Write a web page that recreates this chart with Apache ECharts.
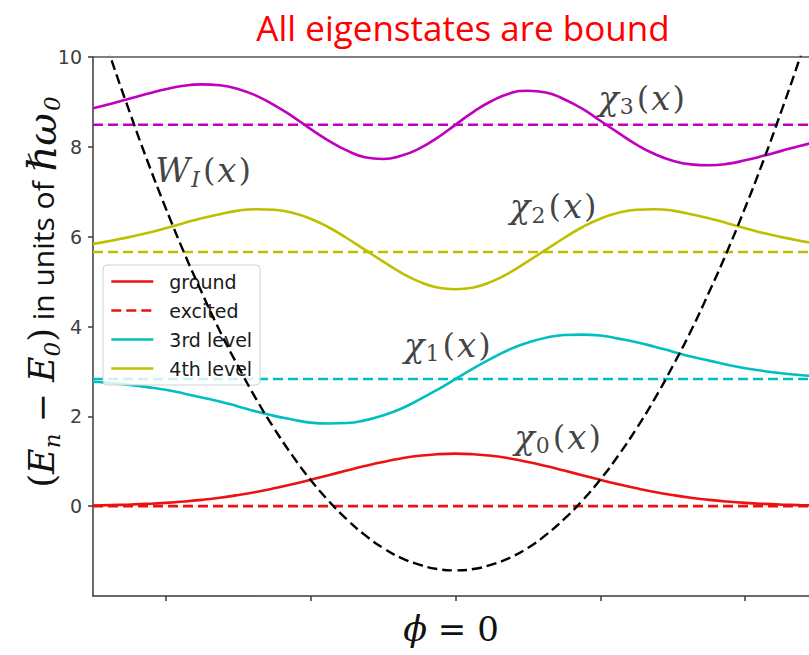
<!DOCTYPE html>
<html><head><meta charset="utf-8">
<script src="https://cdn.jsdelivr.net/npm/echarts@6/dist/echarts.min.js"></script>
<style>html,body{margin:0;padding:0;background:#fff}#c{width:809px;height:655px}</style>
</head><body><div id="c"></div>
<script>
// ---- data ----
const xGrid = [-5,-4.75,-4.5,-4.25,-4,-3.75,-3.5,-3.25,-3,-2.75,-2.5,-2.25,-2,-1.75,-1.5,-1.25,-1,-0.75,-0.5,-0.25,0,
  0.25,0.5,0.75,1,1.25,1.5,1.75,2,2.25,2.5,2.75,3,3.25,3.5,3.75,4,4.25,4.5,4.75,5];
const groundWave = [0.015,0.024,0.035,0.051,0.073,0.103,0.141,0.188,0.247,0.316,0.397,0.487,0.586,0.689,0.793,0.893,0.984,1.062,1.121,1.157,1.17,
  1.157,1.121,1.062,0.984,0.893,0.793,0.689,0.586,0.487,0.397,0.316,0.247,0.188,0.141,0.103,0.073,0.051,0.035,0.024,0.015];
const firstWave = [2.77,2.74,2.70,2.65,2.59,2.51,2.42,2.33,2.22,2.11,2.01,1.93,1.86,1.84,1.85,1.91,2.02,2.17,2.37,2.59,2.83,
  3.07,3.29,3.49,3.64,3.75,3.81,3.82,3.80,3.73,3.65,3.55,3.44,3.33,3.24,3.15,3.07,3.01,2.96,2.92,2.89];
const secondWave = [5.84,5.91,5.99,6.08,6.19,6.30,6.41,6.50,6.58,6.61,6.60,6.53,6.40,6.21,5.97,5.71,5.45,5.20,5.00,4.87,4.83,
  4.87,5.00,5.20,5.45,5.71,5.97,6.21,6.40,6.53,6.60,6.61,6.58,6.50,6.41,6.30,6.19,6.08,5.99,5.91,5.84];
const thirdWave = [8.86,8.96,9.07,9.18,9.28,9.36,9.39,9.37,9.29,9.14,8.93,8.68,8.40,8.14,7.92,7.77,7.73,7.80,7.96,8.20,8.49,
  8.78,9.02,9.19,9.25,9.21,9.06,8.85,8.58,8.31,8.05,7.84,7.69,7.61,7.59,7.62,7.70,7.80,7.91,8.02,8.12];
const potentialW = [11.2,9.96,8.80,7.69,6.65,5.67,4.76,3.90,3.12,2.39,1.73,1.13,0.59,0.12,-0.29,-0.64,-0.93,-1.15,-1.30,-1.40,-1.43,
  -1.40,-1.30,-1.15,-0.93,-0.64,-0.29,0.12,0.59,1.13,1.73,2.39,3.12,3.90,4.76,5.67,6.65,7.69,8.80,9.96,11.2];
const levelValues = [0, 2.83, 5.66, 8.49];
const levelNames = ['excited', 'level 1', 'level 2', 'level 3'];
const levelSpan = [-5, 5];
const yTickValues = [0, 2, 4, 6, 8, 10];
const xTickValues = [-4, -2, 0, 2, 4];
const annotMain = ['W', 'χ', 'χ', 'χ', 'χ'];
const annotSub = ['I', '3', '2', '1', '0'];
const annotX = [-3.48, 2.57, 1.35, -0.11, 1.41];
const annotY = [7.48, 9.09, 6.68, 3.59, 1.54];
const legendNames = ['ground', 'excited', '3rd level', '4th level'];

// ---- styles ----
const RED = '#ee1111', CYAN = '#00bfbf', YEL = '#bfbf00', MAG = '#bf00bf';
const levelColors = [RED, CYAN, YEL, MAG];
const DASH = [10, 5];
const LW = 2.6;
const MATH = 'DejaVu Serif';

const zip = ys => xGrid.map((x, i) => [x, ys[i]]);
const lineSeries = (name, ys, color, extra) => Object.assign({
  name: name, type: 'line', smooth: true, symbol: 'none', showSymbol: false, z: 3,
  data: zip(ys), itemStyle: { color: color }, lineStyle: { color: color, width: LW }
}, extra || {});

const series = [];
levelValues.forEach((v, i) => {
  series.push({
    name: levelNames[i], type: 'line', symbol: 'none', showSymbol: false, silent: true, z: 2,
    data: levelSpan.map(x => [x, v]),
    itemStyle: { color: levelColors[i] },
    lineStyle: { color: levelColors[i], width: LW, type: DASH }
  });
});
series.push(
  lineSeries('ground', groundWave, RED),
  lineSeries('3rd level', firstWave, CYAN),
  lineSeries('4th level', secondWave, YEL),
  lineSeries('chi3', thirdWave, MAG),
  lineSeries('W', potentialW, '#000', { z: 4, lineStyle: { color: '#000', width: 2.4, type: DASH } }),
  {
    name: 'annotations', type: 'scatter', symbolSize: 0, silent: true, z: 5,
    data: annotX.map((x, i) => [x, annotY[i], i]),
    label: {
      show: true, position: 'inside',
      formatter: p => {
        const i = p.data[2];
        const subStyle = i === 0 ? 'si' : 's';
        return '{m|' + annotMain[i] + '}{' + subStyle + '|' + annotSub[i] + '}{p|(}{m|x}{p|)}';
      },
      rich: {
        m: { fontFamily: MATH, fontStyle: 'italic', fontSize: 34, color: '#111', lineHeight: 40, padding: [0, 1, 0, 1] },
        p: { fontFamily: MATH, fontSize: 32, color: '#111', lineHeight: 40, padding: [0, 1, 0, 1] },
        s: { fontFamily: MATH, fontSize: 22, color: '#111', lineHeight: 40, verticalAlign: 'bottom', padding: [0, 2, 0, 0] },
        si: { fontFamily: MATH, fontStyle: 'italic', fontSize: 22, color: '#111', lineHeight: 40, verticalAlign: 'bottom', padding: [0, 2, 0, 0] }
      }
    }
  }
);

const axisLineStyle = { color: '#3a3a3a', width: 1.5 };
const option = {
  animation: false,
  backgroundColor: '#fff',
  grid: { left: 93, right: 0, top: 57, bottom: 59, outerBoundsMode: 'none', containLabel: false },
  xAxis: [
    {
      type: 'value', min: -5, max: 4.88, position: 'bottom',
      axisLine: { show: true, onZero: false, lineStyle: axisLineStyle },
      axisTick: { show: true, customValues: xTickValues, length: 5, lineStyle: axisLineStyle },
      axisLabel: { show: false },
      splitLine: { show: false },
      name: '{i|ϕ}{n| = 0}', nameLocation: 'middle', nameGap: 15,
      nameTextStyle: {
        rich: {
          i: { fontFamily: MATH, fontStyle: 'italic', fontSize: 35, color: '#111' },
          n: { fontFamily: MATH, fontSize: 34, color: '#111' }
        }
      }
    },
    {
      type: 'value', min: -5, max: 4.88, position: 'top',
      axisLine: { show: true, onZero: false, lineStyle: { color: '#555', width: 1.5 } },
      axisTick: { show: false }, axisLabel: { show: false }, splitLine: { show: false }
    }
  ],
  yAxis: {
    type: 'value', min: -2, max: 10,
    axisLine: { show: true, onZero: false, lineStyle: axisLineStyle },
    axisTick: { show: true, customValues: yTickValues, length: 5, lineStyle: axisLineStyle },
    axisLabel: { customValues: yTickValues, fontSize: 19, color: '#404040', fontFamily: 'DejaVu Sans', margin: 11 },
    splitLine: { show: false }
  },
  legend: {
    data: legendNames, orient: 'vertical', left: 103, top: 265,
    itemWidth: 42, itemHeight: 16, itemGap: 10,
    padding: [7, 8, 7, 7],
    itemStyle: { opacity: 0 },
    lineStyle: { width: 2.6 },
    backgroundColor: 'rgba(255,255,255,0.8)', borderColor: '#d0d0d0', borderWidth: 1, borderRadius: 4,
    textStyle: { fontFamily: 'DejaVu Sans', fontSize: 19, lineHeight: 19, color: '#1a1a1a', padding: [0, 0, 0, 11] },
    selectedMode: false
  },
  graphic: [
    {
      type: 'text', x: 463, y: 27, silent: true,
      style: { text: 'All eigenstates are bound', fill: '#ff0000', fontFamily: 'Open Sans', fontSize: 35, align: 'center', verticalAlign: 'middle' }
    },
    {
      type: 'text', x: 42, y: 292, rotation: Math.PI / 2, silent: true,
      style: {
        text: '{p|(}{m|E}{s|n}{p| − }{m|E}{s|0}{p|)}{t| in units of }{h|ℏω}{s|0}',
        align: 'center', verticalAlign: 'middle',
        rich: {
          m: { fontFamily: MATH, fontStyle: 'italic', fontSize: 35, fill: '#111', lineHeight: 42 },
          h: { fontFamily: MATH, fontStyle: 'italic', fontSize: 40, fill: '#111', lineHeight: 42, padding: [0, 2, 0, 2] },
          p: { fontFamily: MATH, fontSize: 35, fill: '#111', lineHeight: 42 },
          s: { fontFamily: MATH, fontStyle: 'italic', fontSize: 23, fill: '#111', lineHeight: 42, verticalAlign: 'bottom' },
          t: { fontFamily: 'Open Sans', fontSize: 30, fill: '#111', lineHeight: 42 }
        }
      }
    }
  ],
  series: series
};
const chart = echarts.init(document.getElementById('c'), null, { renderer: 'svg' });
chart.setOption(option);
</script></body></html>
